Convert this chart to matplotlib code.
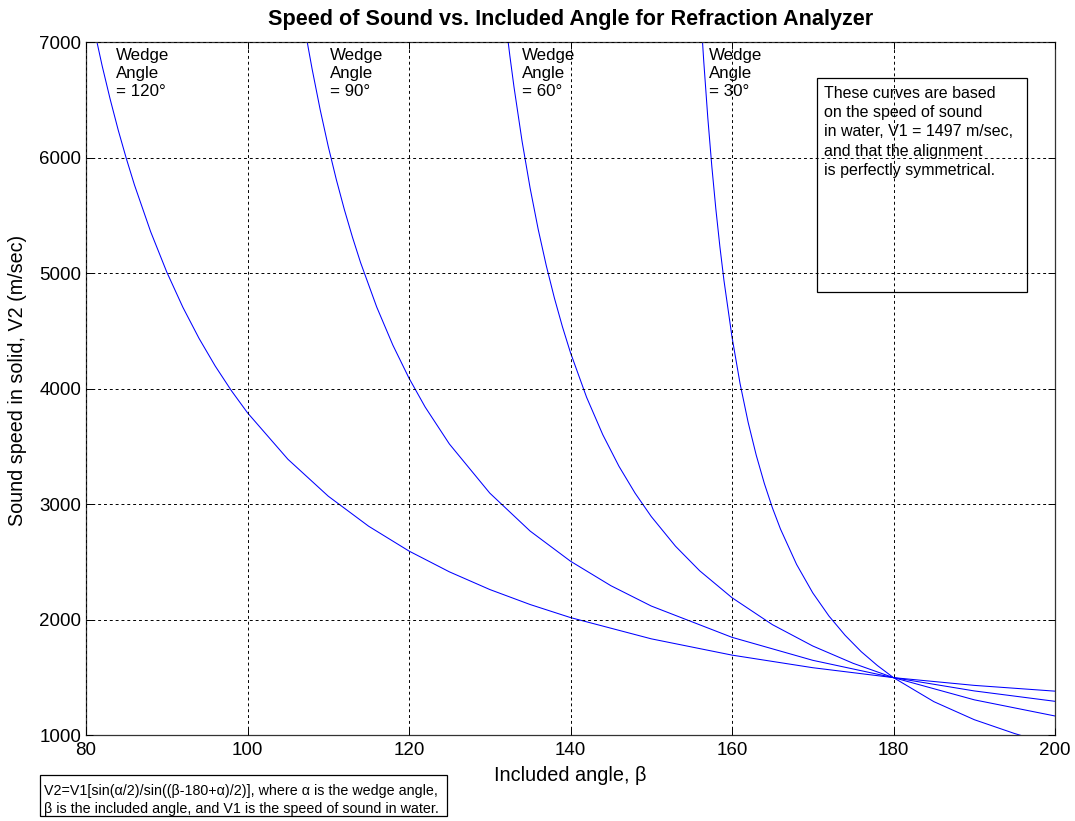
import matplotlib.pyplot as plt
from matplotlib.patches import Rectangle

plt.rcParams['font.family'] = ['Liberation Sans', 'DejaVu Sans']

# included angle beta (deg) and sound speed V2 (m/s), one set per wedge angle
beta_120 = [80, 81, 82, 83, 84, 85, 86, 88, 90, 92, 94, 96, 98, 100, 105, 110, 115, 120,
            125, 130, 135, 140, 150, 160, 170, 180, 190, 200]
v2_120 = [7466, 7114, 6794, 6503, 6235, 5990, 5763, 5359, 5009, 4703, 4434, 4195, 3982, 3790,
          3388, 3068, 2808, 2593, 2413, 2260, 2130, 2017, 1833, 1692, 1583, 1497, 1430, 1380]

beta_90 = [107, 107.5, 108, 109, 110, 111, 112, 113, 114, 116, 118, 120, 122, 125, 130, 135,
           140, 145, 150, 160, 170, 180, 190, 200]
v2_90 = [7162, 6959, 6767, 6414, 6096, 5809, 5548, 5310, 5091, 4706, 4376, 4090, 3840, 3520,
         3095, 2766, 2505, 2293, 2117, 1846, 1647, 1497, 1382, 1292]

beta_60 = [132, 132.5, 133, 134, 135, 136, 137, 138, 139, 140, 142, 144, 146, 148, 150, 153,
           156, 160, 165, 170, 175, 180, 190, 200]
v2_60 = [7161, 6875, 6612, 6142, 5735, 5378, 5064, 4785, 4535, 4310, 3923, 3600, 3327, 3094,
         2892, 2635, 2422, 2189, 1956, 1771, 1621, 1497, 1305, 1165]

beta_30 = [156, 156.25, 156.5, 157, 157.5, 158, 158.5, 159, 160, 161, 162, 163, 164, 165, 166,
           168, 170, 172, 174, 176, 178, 180, 185, 190, 195, 196, 200]
v2_30 = [7403, 7108, 6834, 6347, 5924, 5554, 5228, 4938, 4446, 4042, 3707, 3423, 3179, 2968,
         2784, 2477, 2231, 2031, 1864, 1722, 1602, 1497, 1289, 1133, 1013, 992, 917]

wedge_labels = ['Wedge\nAngle\n= 120°', 'Wedge\nAngle\n= 90°', 'Wedge\nAngle\n= 60°', 'Wedge\nAngle\n= 30°']
label_x = [83.7, 110.2, 134.0, 157.1]

fig = plt.figure(figsize=(10.75, 8.21), dpi=100)
ax = fig.add_axes([0.080, 0.1047, 0.9014, 0.8441])

for b, v in [(beta_120, v2_120), (beta_90, v2_90), (beta_60, v2_60), (beta_30, v2_30)]:
    ax.plot(b, v, color='blue', linewidth=0.75)

ax.set_xlim(80, 200)
ax.set_ylim(1000, 7000)
ax.set_xticks(range(80, 201, 20))
ax.set_yticks(range(1000, 7001, 1000))
ax.tick_params(direction='in', top=True, right=True, labelsize=13.5, length=5, width=0.7)
ax.tick_params(axis='x', pad=5)
ax.grid(True, color='black', linestyle=(0, (3, 3)), linewidth=0.7)
ax.set_axisbelow(False)
for s in ax.spines.values():
    s.set_linewidth(0.9)
    s.set_color('#333333')

ax.set_title('Speed of Sound vs. Included Angle for Refraction Analyzer',
             fontsize=15.6, fontweight='bold', pad=12)
ax.set_xlabel('Included angle, β', fontsize=14.3, labelpad=5)
ax.set_ylabel('Sound speed in solid, V2 (m/sec)', fontsize=14.2)
ax.yaxis.set_label_coords(-0.061, 0.512)

for x, t in zip(label_x, wedge_labels):
    ax.text(x, 6945, t, fontsize=12.2, va='top', ha='left', linespacing=1.24, zorder=2)

ax.add_patch(Rectangle((0.754, 0.639), 0.217, 0.309, transform=ax.transAxes,
                       fill=False, edgecolor='black', linewidth=0.9, zorder=4))
ax.text(0.762, 0.937, 'These curves are based\non the speed of sound\nin water, V1 = 1497 m/sec,\n'
        'and that the alignment\nis perfectly symmetrical.',
        transform=ax.transAxes, fontsize=11.5, va='top', ha='left', linespacing=1.36, zorder=2)

fig.patches.append(Rectangle((0.0372, 0.006), 0.3786, 0.050, transform=fig.transFigure,
                             fill=False, edgecolor='black', linewidth=0.9))
fig.text(0.041, 0.0455, 'V2=V1[sin(α/2)/sin((β-180+α)/2)], where α is the wedge angle,\n'
         'β is the included angle, and V1 is the speed of sound in water.',
         fontsize=10.3, va='top', ha='left', linespacing=1.42)

fig.savefig('out.png', dpi=100)
